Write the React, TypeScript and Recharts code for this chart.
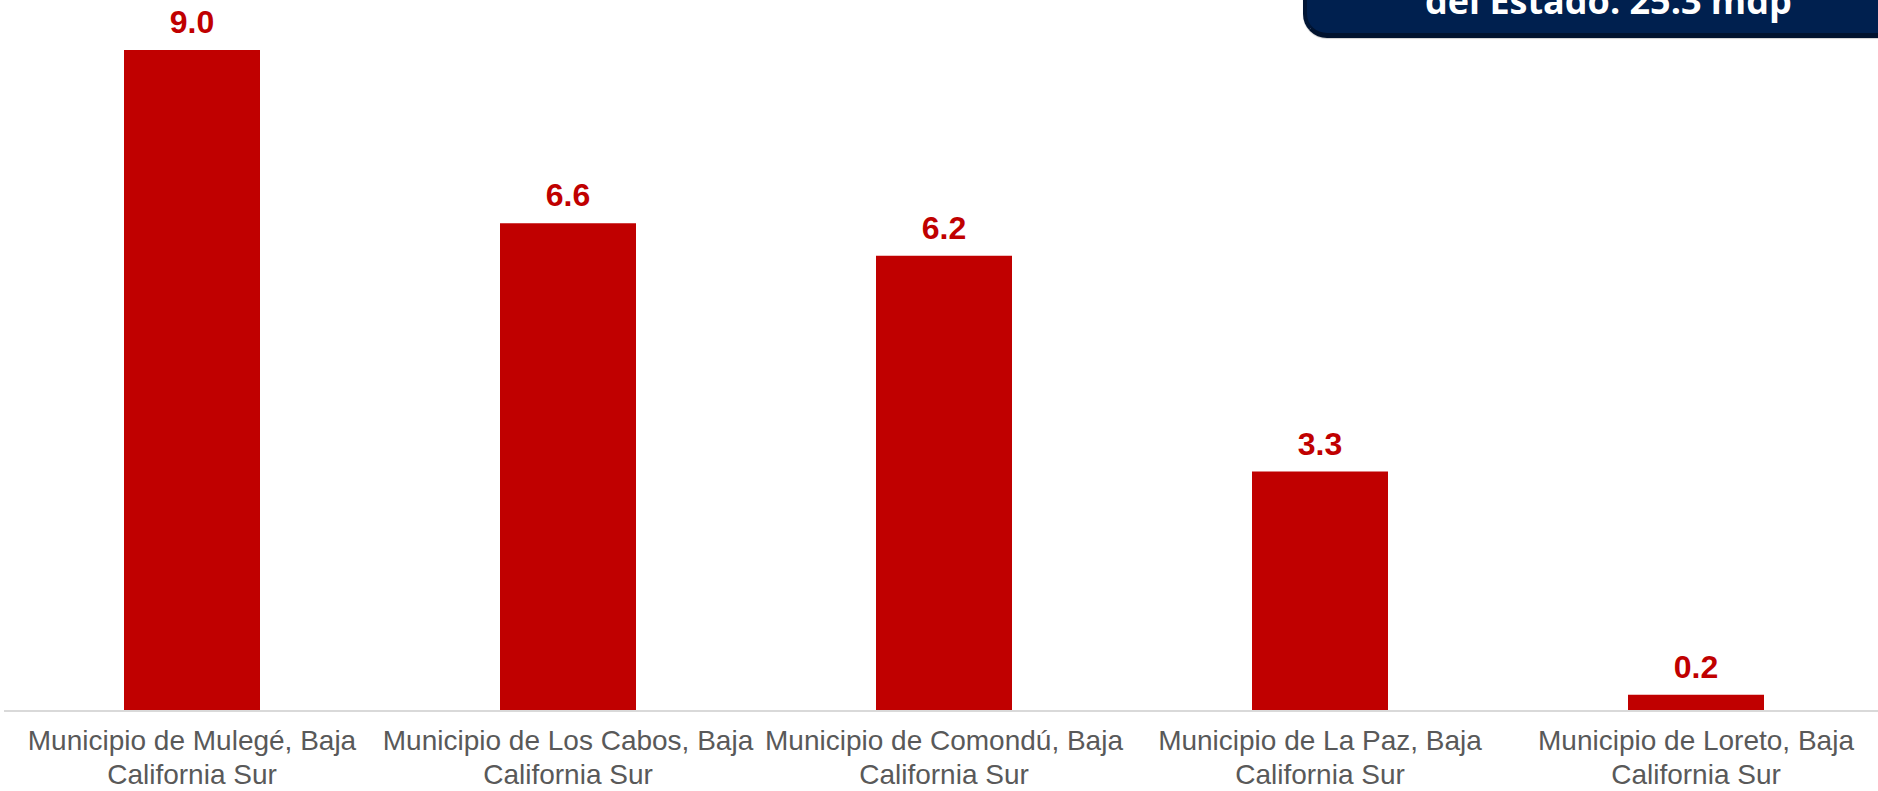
import { BarChart, Bar, XAxis, YAxis, LabelList } from 'recharts';

const municipios = [
  'Municipio de Mulegé, Baja California Sur',
  'Municipio de Los Cabos, Baja California Sur',
  'Municipio de Comondú, Baja California Sur',
  'Municipio de La Paz, Baja California Sur',
  'Municipio de Loreto, Baja California Sur',
];
// (labels are shown rounded to 1 decimal)
const montos = [9.0, 6.64, 6.2, 3.26, 0.22];
const totalLabel = 'del Estado: 25.3 mdp';

const data = municipios.map((name, i) => ({ name, value: montos[i] }));

// split "..., Baja California Sur" into two lines like the original
function MunicipioTick(props: any) {
  const { x, y, payload } = props;
  const full: string = payload.value;
  const cut = full.lastIndexOf(' California');
  const line1 = full.slice(0, cut);
  const line2 = full.slice(cut + 1);
  return (
    <text
      x={x}
      y={y}
      textAnchor="middle"
      fill="#595959"
      fontSize={28}
      fontFamily="'Liberation Sans', Arial, sans-serif"
    >
      <tspan x={x} dy={31}>{line1}</tspan>
      <tspan x={x} dy={34}>{line2}</tspan>
    </text>
  );
}

export default function App() {
  return (
    <div
      style={{
        position: 'absolute',
        top: 0,
        left: 0,
        width: 1878,
        height: 791,
        overflow: 'hidden',
        background: '#ffffff',
        fontFamily: "'Liberation Sans', Arial, sans-serif",
      }}
    >
      <BarChart
        width={1890}
        height={791}
        data={data}
        margin={{ top: 50, right: 6, bottom: 0, left: 4 }}
      >
        <XAxis
          dataKey="name"
          height={80}
          interval={0}
          tickLine={false}
          axisLine={{ stroke: '#d9d9d9', strokeWidth: 2 }}
          tick={<MunicipioTick />}
        />
        <YAxis hide domain={[0, 9]} />
        <Bar dataKey="value" fill="#C00000" barSize={136} isAnimationActive={false}>
          <LabelList
            dataKey="value"
            position="top"
            offset={17}
            formatter={(v: number) => v.toFixed(1)}
            fill="#C00000"
            fontSize={32}
            fontWeight="bold"
            fontFamily="'Liberation Sans', Arial, sans-serif"
          />
        </Bar>
      </BarChart>

      {/* summary box, cut off at the top edge */}
      <div
        style={{
          position: 'absolute',
          left: 1303,
          top: -60,
          width: 640,
          height: 93,
          background: '#00204F',
          borderLeft: '4px solid #001535',
          borderBottom: '5px solid #00122E',
          borderBottomLeftRadius: 24,
          boxShadow: '0 1px 1px #d0d0d0',
        }}
      />
      <div
        style={{
          position: 'absolute',
          left: 1425,
          top: -17,
          fontFamily: "'Open Sans', sans-serif",
          fontWeight: 700,
          fontSize: 36,
          lineHeight: '36px',
          color: '#ffffff',
          whiteSpace: 'nowrap',
        }}
      >
        {totalLabel}
      </div>
    </div>
  );
}
